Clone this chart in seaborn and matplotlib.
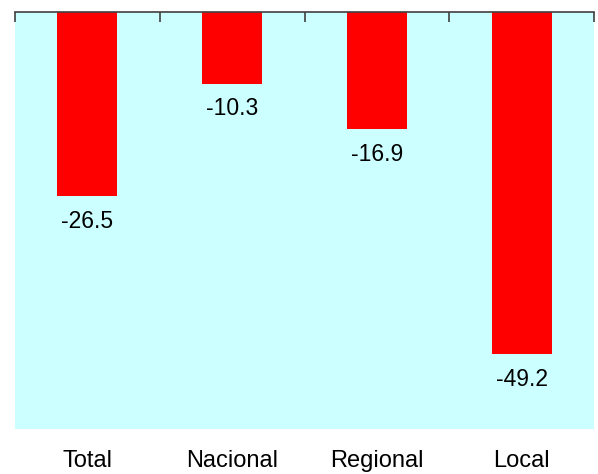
import matplotlib
matplotlib.use("Agg")
import matplotlib.pyplot as plt
import seaborn as sns
import pandas as pd

categories = ["Total", "Nacional", "Regional", "Local"]
values = [-26.5, -10.3, -16.9, -49.2]
value_labels = ["-26.5", "-10.3", "-16.9", "-49.2"]

sns.set_theme(style="white")
plt.rcParams["font.family"] = ["Liberation Sans", "DejaVu Sans"]

df = pd.DataFrame({"categoria": categories, "variacion": values})

fig = plt.figure(figsize=(5.98, 4.74), dpi=100)
ax = fig.add_axes([15 / 598, 45 / 474, 579 / 598, 417 / 474])
ax.set_facecolor("#CCFFFF")

sns.barplot(data=df, x="categoria", y="variacion", color="#FF0000",
            width=0.415, saturation=1, edgecolor="#FF0000", linewidth=0,
            ax=ax)

ax.set_ylim(-60, 0)
ax.set_xlim(-0.5, len(categories) - 0.5)

# value labels under each bar end
for i, (v, lab) in enumerate(zip(values, value_labels)):
    ax.annotate(lab, xy=(i, v), xytext=(0, -10), textcoords="offset points",
                ha="center", va="top", fontsize=16.5, color="black")

# only the top spine, with ticks at category boundaries
for side in ["left", "right", "bottom"]:
    ax.spines[side].set_visible(False)
ax.spines["top"].set_visible(True)
ax.spines["top"].set_color("#404040")
ax.spines["top"].set_linewidth(1.2)

ax.set_yticks([])
ax.set_xticks(range(len(categories)))
ax.set_xticklabels(categories)
ax.set_xticks([i - 0.5 for i in range(len(categories) + 1)], minor=True)
ax.tick_params(axis="x", which="major", bottom=False, top=False,
               labelsize=17, pad=9, labelcolor="black")
ax.tick_params(axis="x", which="minor", bottom=False, top=True,
               direction="in", length=7, width=1.2, color="#404040")
ax.set_xlabel("")
ax.set_ylabel("")

fig.savefig("out.png", dpi=100)
